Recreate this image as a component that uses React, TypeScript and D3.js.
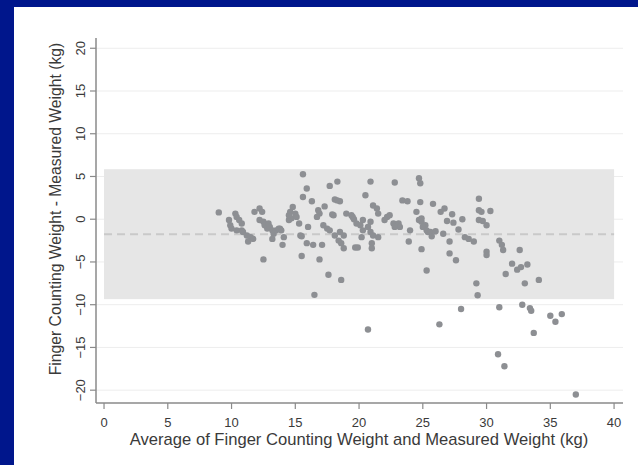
import React from "react";
import * as d3 from "d3";

const avgKg: number[] = [
  9.0, 9.8, 9.9, 10.0, 10.3, 10.4, 10.6, 10.8, 10.4, 10.8, 10.9, 11.2, 11.5, 11.7, 11.3,
  11.8, 12.2, 12.4, 12.2, 12.5, 12.6, 12.9, 12.8, 13.0, 13.2, 13.3, 13.5, 13.8, 13.2, 14.1,
  14.0, 12.5, 14.6, 14.8, 15.0, 14.5, 14.7, 15.1, 15.3, 15.4, 15.5, 16.0, 15.6, 15.9, 15.6,
  16.3, 15.5, 15.9, 16.4, 16.5, 17.1, 16.9, 17.6, 18.6, 17.7, 18.3, 18.1, 18.5, 18.3, 17.3,
  16.8, 16.9, 16.7, 17.9, 18.0, 17.2, 17.5, 17.7, 18.1, 18.5, 18.8, 18.4, 18.6, 18.8, 19.0,
  19.4, 19.6, 19.8, 19.7, 19.9, 20.3, 20.9, 20.7, 20.9, 21.1, 20.1, 20.3, 20.2, 21.5, 21.0,
  21.0, 20.9, 20.5, 21.1, 21.4, 21.5, 20.7, 22.2, 22.4, 22.0, 22.7, 23.1, 23.2, 22.8, 22.8,
  23.4, 23.8, 24.0, 23.9, 24.7, 24.8, 24.8, 24.5, 24.7, 24.9, 25.2, 25.4, 24.9, 25.3, 24.9,
  25.0, 25.3, 25.6, 26.0, 25.7, 26.6, 25.8, 26.4, 26.7, 27.3, 26.9, 27.4, 28.1, 27.8, 27.1,
  28.3, 28.6, 29.0, 29.4, 29.4, 29.6, 30.3, 29.4, 29.7, 30.0, 27.1, 27.6, 30.0, 30.0, 29.2,
  29.3, 28.0, 26.3, 31.0, 31.2, 31.3, 32.6, 32.0, 32.4, 32.7, 33.2, 31.5, 33.0, 34.1, 31.0,
  32.8, 33.4, 33.5, 33.7, 30.9, 31.4, 35.0, 35.4, 35.9, 37.0, 14.5, 13.7, 13.9, 19.5,
];

const diffKg: number[] = [
  0.8, -0.1, -0.7, -1.1, 0.66, 0.27, -0.1, -0.5, -1.3, -1.3, -1.5, -1.9, -2.1, -2.3, -2.6,
  0.86, 1.25, 0.86, -0.1, -0.3, -0.7, -0.5, -1.1, -0.9, -1.3, -1.7, -1.3, -1.1, -2.3, -2.1,
  -3.0, -4.7, 0.86, 1.44, 0.66, -0.1, 0.1, 0.27, -0.5, -1.9, -2.0, -0.9, 5.26, 3.6, 2.6,
  2.1, -4.3, -2.8, -3.0, -8.85, -3.0, -4.7, -6.5, -7.1, 3.9, 4.4, 2.3, 2.1, 2.2, 1.5,
  1.05, 0.66, 0.27, 0.55, 0.47, -0.7, -1.1, -1.3, -1.9, -1.5, -1.9, -2.5, -2.8, -3.4, 0.66,
  0.47, 0.0, -0.5, -3.3, -3.3, -0.1, -0.3, -0.9, -1.5, -1.9, -0.7, -1.3, -2.1, -2.1, -2.8,
  -3.4, 4.4, 2.8, 1.6, 1.25, 0.66, -12.9, 0.27, 0.47, -0.1, -0.5, -0.5, -0.9, -0.9, 4.3,
  2.2, 2.1, -1.3, -2.6, 4.8, 4.2, 2.0, 0.86, -0.1, -0.3, -0.7, -1.5, -3.5, -6.0, 0.1,
  -0.9, -1.3, -1.5, -1.4, -2.0, -1.7, 1.8, 0.86, 1.25, 0.58, -0.2, -0.4, 0.0, -1.2, -2.6,
  -2.1, -2.3, -2.6, 2.4, 1.05, 0.86, 0.97, -0.1, -0.2, -0.7, -4.0, -4.8, -3.8, -4.2, -7.5,
  -8.9, -10.5, -12.3, -2.5, -3.0, -3.6, -3.6, -5.2, -5.9, -5.6, -5.3, -6.4, -7.5, -7.1, -10.3,
  -10.0, -10.4, -10.7, -13.3, -15.8, -17.2, -11.3, -12.0, -11.1, -20.5, 0.47, -1.1, -1.3, 0.27,
];

const meanDiff = -1.75;
const upperLimit = 5.85;
const lowerLimit = -9.35;

const xTicks: number[] = [0, 5, 10, 15, 20, 25, 30, 35, 40];
const yTicks: number[] = [-20, -15, -10, -5, 0, 5, 10, 15, 20];

const xTitle = "Average of Finger Counting Weight and Measured Weight (kg)";
const yTitle = "Finger Counting Weight - Measured Weight (kg)";

const W = 638;
const H = 465;

export default function App() {
  const left = 96;
  const right = 623;
  const top = 38;
  const bottom = 403;

  const x = d3.scaleLinear().domain([-0.63, 40.7]).range([left, right]);
  const y = d3.scaleLinear().domain([-21.5, 21.2]).range([bottom, top]);

  const font = "'Liberation Sans', Arial, sans-serif";
  const axisColor = "#8a8a8a";
  const textColor = "#3a3a3a";

  return (
    <svg
      width={W}
      height={H}
      style={{ position: "absolute", left: 0, top: 0, display: "block" }}
    >
      <rect x={0} y={0} width={W} height={H} fill="#00168c" />
      <rect x={14} y={7} width={W - 14} height={H - 7} fill="#ffffff" />

      {/* grid */}
      {yTicks.map((t) => (
        <line
          key={"g" + t}
          x1={left}
          x2={right}
          y1={y(t)}
          y2={y(t)}
          stroke="#ededed"
          strokeWidth={1}
        />
      ))}

      {/* limits band */}
      <rect
        x={x(0)}
        y={y(upperLimit)}
        width={x(40) - x(0)}
        height={y(lowerLimit) - y(upperLimit)}
        fill="#e6e6e6"
      />
      <line
        x1={x(0)}
        x2={x(40)}
        y1={y(meanDiff)}
        y2={y(meanDiff)}
        stroke="#c9c9c9"
        strokeWidth={2}
        strokeDasharray="8,5"
      />

      {/* points */}
      {avgKg.map((a, i) => (
        <circle key={i} cx={x(a)} cy={y(diffKg[i])} r={3.2} fill="#8d8f93" />
      ))}

      {/* axes */}
      <line x1={left} x2={left} y1={top} y2={bottom} stroke={axisColor} strokeWidth={1.5} />
      <line x1={left} x2={right} y1={bottom} y2={bottom} stroke={axisColor} strokeWidth={1.5} />

      {yTicks.map((t) => (
        <g key={"y" + t}>
          <line x1={left - 6} x2={left} y1={y(t)} y2={y(t)} stroke={axisColor} strokeWidth={1.2} />
          <text
            transform={`translate(${left - 11},${y(t)}) rotate(-90)`}
            textAnchor="middle"
            fontFamily={font}
            fontSize={13}
            fill={textColor}
          >
            {t < 0 ? "\u2212" + Math.abs(t) : String(t)}
          </text>
        </g>
      ))}

      {xTicks.map((t) => (
        <g key={"x" + t}>
          <line x1={x(t)} x2={x(t)} y1={bottom} y2={bottom + 6} stroke={axisColor} strokeWidth={1.2} />
          <text
            x={x(t)}
            y={bottom + 24}
            textAnchor="middle"
            fontFamily={font}
            fontSize={13}
            fill={textColor}
          >
            {t}
          </text>
        </g>
      ))}

      <text
        x={359}
        y={445}
        textAnchor="middle"
        fontFamily={font}
        fontSize={16.6}
        fill={textColor}
      >
        {xTitle}
      </text>
      <text
        transform={`translate(61,209) rotate(-90)`}
        textAnchor="middle"
        fontFamily={font}
        fontSize={15.7}
        fill={textColor}
      >
        {yTitle}
      </text>
    </svg>
  );
}
